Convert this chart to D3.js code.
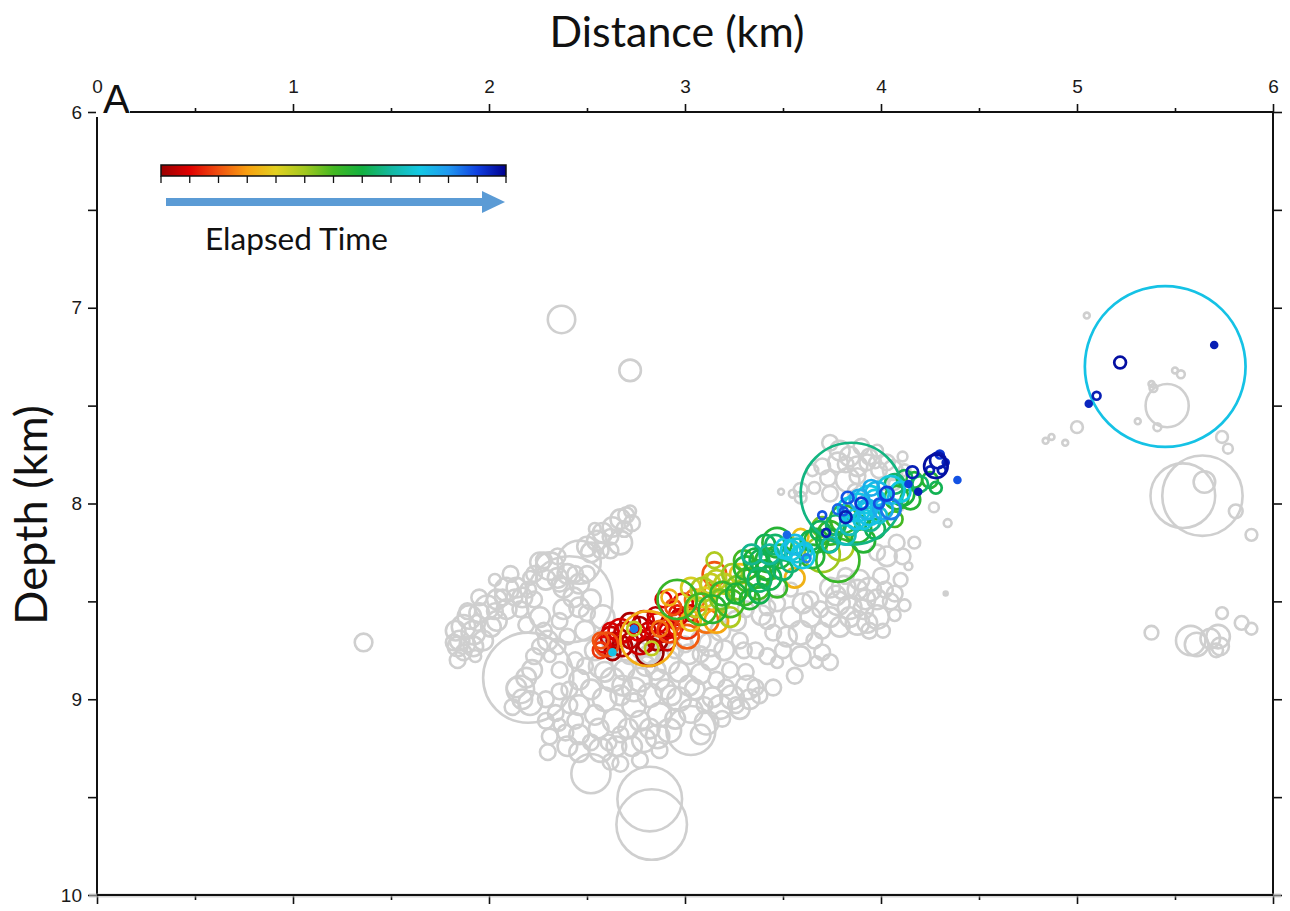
<!DOCTYPE html>
<html><head><meta charset="utf-8">
<script src="https://cdn.jsdelivr.net/npm/d3@7"></script>
<style>body{margin:0;background:#fff}svg{display:block}</style>
</head><body>
<svg id="chart" width="1290" height="911"></svg>
<script>
// ---------------- DATA ----------------
const xMajorTicks = [0, 1, 2, 3, 4, 5, 6];
const xMinorTicks = [0.5, 1.5, 2.5, 3.5, 4.5, 5.5];
const depthTicks = [6, 6.5, 7, 7.5, 8, 8.5, 9, 9.5, 10];
const depthLabels = [6, 7, 8, 9, 10];
const xTitle = "Distance (km)";
const yTitle = "Depth (km)";
const panelLabel = "A";
const legendLabel = "Elapsed Time";
// colour palette of the elapsed-time bar (normalised time 0 -> 1)
const colorStops = ["#9a0000", "#e00000", "#f05010", "#f8a010", "#e2d020", "#a2c820",
                    "#44b822", "#12b040", "#14b8a0", "#14c8e4", "#2098f0", "#1040e0", "#00008e"];
// background (all) events: [distance km, depth km, radius m]
const grayEvents = [
 [2.37,7.06,70],[2.72,7.32,55],[1.36,8.71,45],[2.82,9.51,165],[2.83,9.64,180],[2.20,8.89,230],
 [2.41,8.49,220],[2.52,9.38,100],[3.03,9.16,125],[2.46,8.30,110],
 [5.05,7.04,15],[5.46,7.50,110],[5.53,7.34,20],[5.50,7.32,15],[5.39,7.41,20],[5.38,7.39,15],
 [5.31,7.58,15],[5.41,7.61,20],[5.00,7.61,30],[4.94,7.69,15],[4.87,7.66,15],[4.84,7.68,15],
 [5.74,7.66,30],[5.77,7.72,25],[5.64,7.96,205],[5.54,7.96,165],[5.65,7.89,55],[5.81,8.04,35],
 [5.89,8.16,30],[5.38,8.66,35],[5.58,8.70,75],[5.61,8.72,60],[5.68,8.69,50],[5.72,8.68,60],
 [5.73,8.73,45],[5.71,8.75,35],[5.74,8.56,30],[5.84,8.61,35],[5.89,8.64,30],
 [3.79,7.73,50],[3.84,7.76,50],[3.83,7.88,60],[3.93,7.79,40],[3.98,7.73,30],[4.03,7.79,40],
 [4.06,7.83,50],[4.07,7.90,30],[4.11,7.76,25],[3.70,7.81,40],[3.74,7.95,40],[3.59,7.93,35],
 [3.55,7.95,20],[3.49,7.94,15],[3.66,7.92,30],[3.59,7.97,30],[3.78,7.79,50],[3.88,7.81,50],
 [3.94,7.76,40],[3.99,7.83,40],[3.88,7.86,40],[4.01,7.90,30],[4.27,8.02,25],[4.34,8.10,20],
 [4.17,8.20,30],[4.14,8.32,20],[4.03,8.27,50],[3.98,8.25,40],[4.08,8.20,40],[4.11,8.27,40],
 [4.33,8.46,10],[3.74,7.69,40],
 [3.82,7.80,40],[3.90,7.71,40],[3.97,7.79,30],[3.73,7.87,40],[3.65,7.83,30],[3.87,7.94,40],
 [4.12,7.83,30],[4.09,8.01,30],
 [3.74,8.43,50],[3.81,8.43,60],[3.88,8.44,50],[3.94,8.44,60],[3.98,8.49,50],[4.05,8.50,40],
 [3.78,8.51,60],[3.84,8.53,60],[3.91,8.54,50],[3.98,8.58,60],[3.88,8.61,60],[3.79,8.63,50],
 [3.74,8.58,50],[3.94,8.65,40],[4.01,8.65,35],[3.70,8.65,40],[4.10,8.39,35],[4.00,8.37,40],
 [3.89,8.39,50],[3.82,8.37,40],[4.07,8.57,30],
 [3.77,8.47,50],[3.92,8.49,50],[4.02,8.44,40],[3.84,8.58,50],[3.93,8.61,50],[4.07,8.46,40],
 [4.12,8.52,30],
 [3.47,8.51,40],[3.54,8.58,50],[3.60,8.51,50],[3.64,8.58,50],[3.59,8.66,60],[3.52,8.68,50],
 [3.45,8.66,40],[3.50,8.75,40],[3.59,8.78,50],[3.42,8.78,40],[3.47,8.81,30],[3.70,8.76,40],
 [3.74,8.81,40],[3.67,8.81,30],[3.45,8.94,40],[3.30,8.75,40],[3.39,8.57,50],[3.66,8.70,40],
 [3.56,8.88,40],[3.64,8.49,40],[3.69,8.54,40],[3.54,8.44,35],[3.42,8.60,40],[3.42,8.53,40],
 [2.36,8.96,40],[2.16,8.95,70],[2.21,9.02,60],[2.22,8.85,50],[2.31,9.19,40],[2.40,9.24,50],
 [2.46,9.27,50],[2.57,9.26,60],[2.65,9.24,50],[2.73,9.24,50],[2.79,9.21,60],[2.86,9.19,60],
 [2.92,9.16,60],[3.11,9.12,60],[3.18,9.04,60],[3.24,8.99,60],[3.32,8.94,60],[3.28,9.05,50],
 [3.14,8.99,50],[3.21,8.94,40],[2.12,9.04,40],[2.19,8.89,50],[2.14,8.94,50],[2.17,9.00,50],
 [2.62,9.32,40],[2.77,9.31,40],
 [2.57,8.83,60],[2.63,8.90,60],[2.69,8.85,50],[2.77,8.90,60],[2.85,8.85,50],[2.91,8.81,60],
 [2.97,8.86,50],[2.52,8.95,50],[2.59,9.00,60],[2.67,8.98,50],[2.74,9.03,60],[2.82,8.98,60],
 [2.90,8.95,50],[2.97,9.00,60],[3.05,8.95,50],[3.08,8.87,50],[3.13,8.80,50],[3.02,8.77,50],
 [2.95,8.75,40],[2.54,9.08,50],[2.64,9.11,60],[2.77,9.11,50],[2.87,9.08,60],[2.46,9.03,50],
 [2.44,9.11,40],[2.82,8.77,50],[2.72,8.77,50],[2.62,8.75,40],[3.08,8.70,50],[3.18,8.65,50],
 [3.26,8.60,50],[3.31,8.54,40],[3.20,8.75,50],[3.13,8.72,60],[3.03,9.06,60],[3.08,9.18,50],
 [3.33,9.00,50],[3.38,8.98,40],[2.46,9.18,50],[2.67,9.18,40],[2.87,9.26,40],
 [2.59,8.86,50],[2.68,8.93,50],[2.74,8.95,60],[2.80,8.83,50],[2.87,8.90,50],[2.93,8.98,50],
 [3.02,8.93,50],[2.56,9.15,50],[2.71,9.15,50],[2.82,9.15,50],[2.95,9.10,50],[2.61,9.22,40],
 [2.52,9.22,40],[2.39,9.17,40],[2.34,9.07,40],[2.29,9.00,40],[2.41,8.95,40],[2.49,8.83,40],
 [2.77,8.75,40],[2.87,8.72,40],[3.00,8.72,40],[3.08,8.77,40],[3.16,8.90,40],[3.23,8.85,40],
 [3.31,8.86,40],[3.36,8.94,40],[3.26,9.03,40],[3.19,9.10,40],[3.10,9.03,40],[2.30,9.27,40],
 [2.67,9.33,40],
 [2.50,8.22,50],[2.55,8.19,50],[2.58,8.15,50],[2.63,8.12,50],[2.67,8.08,50],[2.70,8.06,40],
 [2.73,8.10,40],[2.72,8.04,30],[2.67,8.20,60],[2.62,8.17,40],[2.52,8.25,50],[2.31,8.32,70],
 [2.35,8.38,50],[2.40,8.36,50],[2.29,8.39,50],[2.38,8.43,50],[2.35,8.27,40],[2.46,8.41,50],
 [2.43,8.48,50],[2.50,8.36,40],[2.26,8.30,50],[2.46,8.53,50],[2.38,8.54,50],[2.50,8.56,40],
 [2.52,8.49,50],[2.09,8.44,60],[2.14,8.43,50],[2.17,8.48,50],[2.04,8.49,50],[1.99,8.53,60],
 [1.95,8.56,50],[1.95,8.48,40],[1.90,8.58,60],[1.87,8.63,60],[1.92,8.66,60],[1.85,8.70,50],
 [1.84,8.73,50],[1.82,8.71,40],[1.87,8.76,40],[2.01,8.63,50],[1.97,8.70,50],[2.04,8.60,50],
 [2.09,8.54,50],[1.92,8.73,50],[1.84,8.80,40],[2.30,8.70,50],[2.35,8.73,40],[2.26,8.73,40],
 [2.40,8.68,40],[2.31,8.78,30],[2.58,8.58,60],[2.62,8.66,50],[2.23,8.49,40],[2.11,8.36,40],
 [2.21,8.38,35],[2.03,8.39,30],[2.26,8.58,50],[2.19,8.62,40],
 [1.83,8.65,50],[1.89,8.55,40],[1.94,8.61,40],[2.03,8.55,40],[2.07,8.48,40],[2.13,8.48,40],
 [2.20,8.44,40],[2.23,8.36,40],[2.28,8.29,40],[2.36,8.41,40],[2.44,8.36,40],[2.57,8.24,40],
 [2.62,8.24,40],[2.69,8.13,40],[2.54,8.13,30],[1.89,8.72,40],[1.93,8.78,30],[2.23,8.78,40],
 [2.28,8.65,40],[2.36,8.60,40],[2.16,8.54,40],
 [2.49,8.65,50],[2.54,8.75,50],[2.44,8.80,40],[2.36,8.85,40],[2.46,8.90,50],[2.41,9.03,40],
 [2.29,9.11,40],[2.36,9.13,30],[3.28,8.70,40],[3.36,8.75,40]
];
// coloured (selected) events: [distance km, depth km, radius m, normalised elapsed time]
const colorEvents = [
 [2.62,8.68,50,0.05],[2.67,8.65,60,0.07],[2.72,8.61,50,0.02],[2.79,8.60,50,0.06],[2.86,8.61,50,0.08],
 [2.91,8.65,40,0.07],[2.68,8.73,50,0.02],[2.77,8.71,60,0.06],[2.86,8.70,50,0.01],[2.82,8.76,70,0.0],
 [2.63,8.76,40,0.01],[2.76,8.66,40,0.08],[2.81,8.65,40,0.05],[2.91,8.71,40,0.06],[2.62,8.65,40,0.07],
 [2.58,8.72,40,0.09],[2.72,8.70,40,0.04],[2.85,8.57,40,0.04],[2.57,8.70,40,0.17],[2.60,8.72,60,0.16],
 [2.64,8.70,40,0.03],[2.69,8.66,50,0.05],[2.77,8.62,40,0.02],[2.87,8.66,50,0.04],[2.95,8.63,40,0.09],
 [2.80,8.72,40,0.03],[2.57,8.75,40,0.14],[2.96,8.56,40,0.12],
 [2.81,8.69,140,0.27],[2.74,8.64,35,0.38],[2.83,8.74,35,0.38],[2.74,8.64,15,0.86],[2.63,8.76,15,0.76],
 [2.92,8.65,60,0.15],[3.01,8.68,60,0.18],[2.87,8.64,40,0.20],
 [2.96,8.49,100,0.52],[2.99,8.51,50,0.07],[3.03,8.56,40,0.05],[2.97,8.58,40,0.06],[2.89,8.49,40,0.08],
 [2.92,8.48,40,0.28],[2.94,8.53,40,0.17],[3.06,8.53,50,0.38],[3.09,8.44,60,0.40],[3.13,8.41,50,0.37],
 [3.03,8.43,50,0.35],[3.15,8.36,60,0.17],[3.16,8.39,50,0.38],[3.11,8.60,60,0.20],[3.01,8.63,60,0.14],
 [3.16,8.60,60,0.26],[3.23,8.58,50,0.40],[3.08,8.54,80,0.50],[3.14,8.54,70,0.55],[3.23,8.51,70,0.50],
 [3.19,8.46,60,0.53],[3.27,8.43,60,0.45],[3.30,8.46,60,0.52],[3.32,8.39,60,0.50],[3.24,8.36,50,0.42],
 [3.30,8.29,50,0.50],[3.37,8.36,70,0.54],[3.37,8.43,60,0.50],[3.42,8.29,60,0.55],[3.43,8.38,60,0.60],
 [3.48,8.27,60,0.55],[3.50,8.34,50,0.62],[3.47,8.43,50,0.52],[3.54,8.30,50,0.63],[3.57,8.24,60,0.72],
 [3.47,8.20,75,0.55],[3.60,8.27,60,0.75],[3.54,8.24,50,0.74],[3.52,8.16,15,0.88],[3.62,8.28,20,0.85],
 [3.59,8.17,40,0.30],[3.56,8.38,50,0.28],[3.38,8.29,50,0.60],[3.41,8.21,50,0.60],[3.34,8.26,50,0.65],
 [3.18,8.49,50,0.45],[3.33,8.49,50,0.55],[3.38,8.39,60,0.62],[3.15,8.29,40,0.40],[3.03,8.60,50,0.30],
 [2.95,8.60,40,0.10],
 [3.05,8.49,50,0.20],[3.10,8.48,50,0.33],[3.14,8.44,40,0.22],[3.20,8.41,50,0.38],[3.28,8.36,50,0.30],
 [3.31,8.33,60,0.55],[3.36,8.29,60,0.58],[3.41,8.34,50,0.57],[3.26,8.46,50,0.57],[3.38,8.46,50,0.60],
 [3.46,8.21,50,0.62],[3.43,8.26,50,0.66],[3.51,8.23,50,0.75],[3.56,8.21,50,0.77],[3.61,8.24,40,0.74],
 [3.64,8.19,50,0.60],
 [3.67,8.19,60,0.55],[3.74,8.15,60,0.52],[3.70,8.12,50,0.45],[3.79,8.22,70,0.40],[3.65,8.27,60,0.55],
 [3.70,8.26,90,0.42],[3.78,8.29,110,0.52],[3.85,7.95,260,0.64],[3.81,8.08,70,0.53],[3.88,8.13,70,0.55],
 [3.94,8.08,60,0.65],[3.84,8.03,60,0.75],[3.91,8.19,60,0.55],[3.88,8.02,70,0.76],[3.94,7.98,70,0.75],
 [3.98,7.95,60,0.77],[4.05,7.93,70,0.74],[3.94,8.05,60,0.76],[4.01,8.03,50,0.80],[4.08,7.97,60,0.55],
 [4.11,7.95,60,0.57],[3.91,8.08,50,0.74],[4.05,8.03,50,0.86],[3.82,8.07,30,0.96],[4.03,7.95,35,0.92],
 [3.99,8.00,25,0.90],[3.78,8.03,25,0.88],[3.70,8.06,20,0.90],[3.72,8.15,20,0.96],[3.81,8.04,20,0.90],
 [4.16,7.84,30,0.96],[4.28,7.81,60,0.98],[4.30,7.75,20,0.93],[4.33,7.79,15,0.95],[4.39,7.88,15,0.90],
 [4.19,7.94,15,0.96],[4.14,7.90,15,0.92],[4.25,7.88,40,0.55],[4.28,7.92,30,0.60],[4.20,7.90,40,0.62],
 [4.15,7.98,50,0.55],[4.10,7.94,50,0.75],[3.74,8.21,40,0.68],[3.84,8.11,50,0.70],[3.97,8.13,50,0.60],
 [4.07,8.08,40,0.50],[3.89,7.98,50,0.80],
 [3.69,8.14,50,0.60],[3.77,8.11,50,0.62],[3.73,8.19,60,0.57],[3.82,8.16,50,0.70],[3.87,8.08,50,0.76],
 [3.93,8.03,50,0.78],[3.97,7.98,50,0.75],[3.99,8.06,40,0.72],[4.07,7.90,50,0.62],[4.12,7.87,40,0.60],
 [4.17,7.88,40,0.56],[3.95,7.92,40,0.80],[3.83,7.97,30,0.90],[3.90,8.00,30,0.93],
 [4.29,7.78,40,0.97],[4.25,7.83,20,0.96],[4.31,7.83,20,0.96],
 [5.45,7.30,410,0.76],[5.22,7.28,30,0.98],[5.70,7.19,15,0.96],[5.10,7.45,20,0.96],[5.06,7.49,15,0.95]
];

// ---------------- CHART ----------------
const svg = d3.select("#chart");
const x = d3.scaleLinear().domain([0, 6]).range([97, 1273]);
const y = d3.scaleLinear().domain([6, 10]).range([112, 895]);
const rPx = m => x(m / 1000) - x(0);
const timeColor = d3.scaleLinear()
  .domain(colorStops.map((c, i) => i / (colorStops.length - 1)))
  .range(colorStops).interpolate(d3.interpolateRgb);

svg.append("rect").attr("width", 1290).attr("height", 911).attr("fill", "#fff");

svg.append("defs").append("clipPath").attr("id", "plotclip")
  .append("rect").attr("x", x(0)).attr("y", y(6)).attr("width", x(6) - x(0)).attr("height", y(10) - y(6));

const plot = svg.append("g").attr("clip-path", "url(#plotclip)");
plot.append("g").selectAll("circle").data(grayEvents).join("circle")
  .attr("cx", d => x(d[0])).attr("cy", d => y(d[1])).attr("r", d => rPx(d[2]))
  .attr("fill", d => rPx(d[2]) <= 2.5 ? "#cfcfcf" : "none")
  .attr("stroke", "#cfcfcf").attr("stroke-width", 2.6);

const sorted = colorEvents.slice().sort((a, b) => a[3] - b[3]);
plot.append("g").selectAll("circle").data(sorted).join("circle")
  .attr("cx", d => x(d[0])).attr("cy", d => y(d[1])).attr("r", d => rPx(d[2]))
  .attr("fill", d => rPx(d[2]) <= 3.2 ? timeColor(d[3]) : "none")
  .attr("stroke", d => timeColor(d[3])).attr("stroke-width", 2.7);

// axes
const tickFont = "'Liberation Sans', Arial, Helvetica, sans-serif";
function styleAxis(g) {
  g.select(".domain").remove();
  g.selectAll(".tick line").attr("stroke", "#111").attr("stroke-width", 1.6);
  g.selectAll(".tick text").attr("fill", "#1a1a1a").style("font-family", tickFont).style("font-size", "19px");
}
svg.append("g").attr("transform", `translate(0,${y(6)})`)
  .call(d3.axisTop(x).tickValues(xMajorTicks).tickSize(8).tickPadding(11).tickFormat(d3.format("d")))
  .call(styleAxis);
svg.append("g").attr("transform", `translate(0,${y(6)})`)
  .call(d3.axisTop(x).tickValues(xMinorTicks).tickSize(4).tickFormat(""))
  .call(styleAxis);
svg.append("g").attr("transform", `translate(0,${y(10)})`)
  .call(d3.axisBottom(x).tickValues(xMajorTicks).tickSize(9).tickFormat(""))
  .call(styleAxis);
svg.append("g").attr("transform", `translate(0,${y(10)})`)
  .call(d3.axisBottom(x).tickValues(xMinorTicks).tickSize(5).tickFormat(""))
  .call(styleAxis);
svg.append("g").attr("transform", `translate(${x(0)},0)`)
  .call(d3.axisLeft(y).tickValues(depthTicks).tickSize(9).tickPadding(6)
    .tickFormat(d => depthLabels.includes(d) ? d3.format("d")(d) : ""))
  .call(styleAxis);
svg.append("g").attr("transform", `translate(${x(6)},0)`)
  .call(d3.axisRight(y).tickValues(depthTicks).tickSize(9).tickFormat(""))
  .call(styleAxis);

// frame
svg.append("rect").attr("x", x(0)).attr("y", y(6)).attr("width", x(6) - x(0)).attr("height", y(10) - y(6))
  .attr("fill", "none").attr("stroke", "#111").attr("stroke-width", 2);
svg.append("line").attr("x1", x(0) - 8).attr("x2", x(6) + 8).attr("y1", y(10) + 0.5).attr("y2", y(10) + 0.5)
  .attr("stroke", "#bbb").attr("stroke-width", 4).attr("stroke-opacity", 0.6);
svg.append("line").attr("x1", x(0)).attr("x2", x(6)).attr("y1", y(10)).attr("y2", y(10))
  .attr("stroke", "#111").attr("stroke-width", 2);

// panel label
svg.append("rect").attr("x", x(0) - 1).attr("y", 98).attr("width", 34).attr("height", 19).attr("fill", "#fff");
svg.append("text").attr("x", 103).attr("y", 113).text(panelLabel)
  .style("font-family", tickFont).style("font-size", "40px").attr("fill", "#111");

// titles (fitted to reference widths)
const titleFont = "Lato, 'Open Sans', sans-serif";
function fitText(sel, target) {
  const w = sel.node().getComputedTextLength();
  const fs = parseFloat(sel.style("font-size"));
  sel.style("font-size", (fs * target / w) + "px");
}
const tX = svg.append("text").attr("x", 677).attr("y", 47).attr("text-anchor", "middle")
  .text(xTitle).style("font-family", titleFont).style("font-size", "40px").attr("fill", "#111");
fitText(tX, 255);
const tY = svg.append("text").attr("transform", `translate(47,515) rotate(-90)`).attr("text-anchor", "middle")
  .text(yTitle).style("font-family", titleFont).style("font-size", "40px").attr("fill", "#111");
fitText(tY, 220);

// elapsed-time colour bar
const barX0 = 161, barX1 = 506, barY = 165, barH = 11;
const grad = svg.select("defs").append("linearGradient").attr("id", "tgrad");
colorStops.forEach((c, i) => grad.append("stop").attr("offset", (i / (colorStops.length - 1)) * 100 + "%").attr("stop-color", c));
svg.append("rect").attr("x", barX0).attr("y", barY).attr("width", barX1 - barX0).attr("height", barH)
  .attr("fill", "url(#tgrad)").attr("stroke", "#111").attr("stroke-width", 1.5);
const barScale = d3.scaleLinear().domain([0, 1]).range([barX0, barX1]);
svg.append("g").selectAll("line").data(d3.range(colorStops.length).map(i => i / (colorStops.length - 1))).join("line")
  .attr("x1", d => barScale(d)).attr("x2", d => barScale(d))
  .attr("y1", barY + barH).attr("y2", barY + barH + 7)
  .attr("stroke", "#111").attr("stroke-width", 1.3);

// arrow
const arr = svg.append("g");
arr.append("rect").attr("x", 166).attr("y", 198).attr("width", 320).attr("height", 8).attr("fill", "#5b9bd5");
arr.append("path").attr("d", "M482,191 L505,202 L482,213 Z").attr("fill", "#5b9bd5");
const tL = svg.append("text").attr("x", 205).attr("y", 250).text(legendLabel)
  .style("font-family", titleFont).style("font-size", "28px").attr("fill", "#111");
fitText(tL, 183);
</script>
</body></html>
